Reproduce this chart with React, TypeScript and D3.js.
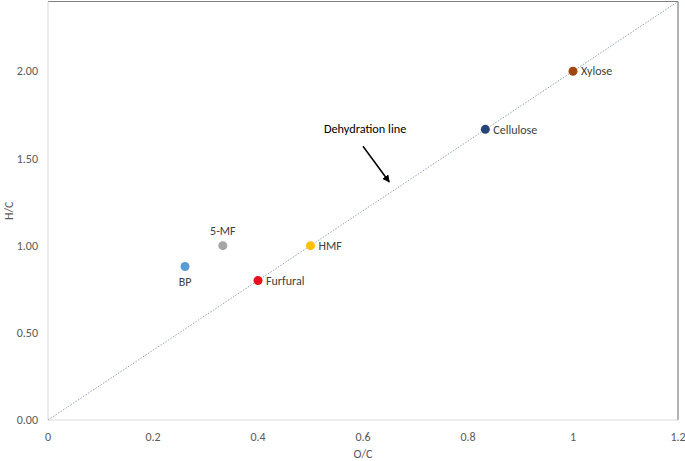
import React from "react";
import * as d3 from "d3";

const names = ["BP", "5-MF", "Furfural", "HMF", "Cellulose", "Xylose"];
const ocValues = [0.261, 0.333, 0.4, 0.5, 0.833, 1.0];
const hcValues = [0.88, 1.0, 0.8, 1.0, 1.667, 2.0];
const colors = ["#5B9BD5", "#A5A5A5", "#E8101C", "#FFC000", "#264478", "#9E480E"];
const labelPos = ["below", "above", "right", "right", "right", "right"];
const xTicks = [0, 0.2, 0.4, 0.6, 0.8, 1, 1.2];
const yTicks = [0, 0.5, 1.0, 1.5, 2.0];
const lineX = [0, 1.2];
const lineY = [0, 2.4];
const arrowFrom = [0.6, 1.57];
const arrowTo = [0.65, 1.365];
const annotationAt = [0.604, 1.67];

const W = 685, H = 461;
const left = 48, right = 678, top = 1.5, bottom = 420;
const font = "Carlito, Calibri, Lato, 'Open Sans', sans-serif";
const fs = 12;

export default function App() {
  const x = d3.scaleLinear().domain([0, 1.2]).range([left, right]);
  const y = d3.scaleLinear().domain([0, 2.4]).range([bottom, top]);
  const line = d3.line<number>().x((_, i) => x(lineX[i])).y((_, i) => y(lineY[i]));
  return (
    <div style={{ position: "absolute", left: 0, top: 0 }}>
      <svg width={W} height={H} style={{ display: "block", fontFamily: font }}>
        <defs>
          <marker id="ah" viewBox="0 0 10 10" refX="9" refY="5" markerWidth="5" markerHeight="5" orient="auto">
            <path d="M0,0 L10,5 L0,10 z" fill="#000" />
          </marker>
        </defs>
        <rect x={0} y={0} width={W} height={H} fill="#fff" />
        <line x1={left} x2={right} y1={top} y2={top} stroke="#7f7f7f" strokeWidth={1.2} />
        <line x1={right} x2={right} y1={top} y2={bottom} stroke="#7f7f7f" strokeWidth={1.2} />
        <line x1={left} x2={left} y1={top} y2={bottom} stroke="#d9d9d9" strokeWidth={1} />
        <line x1={left} x2={right} y1={bottom} y2={bottom} stroke="#d9d9d9" strokeWidth={1} />
        <path d={line(lineX) || ""} fill="none" stroke="#8497B0" strokeWidth={0.9} strokeDasharray="1.5,1.5" />
        {yTicks.map((t) => (
          <text key={"y" + t} x={38} y={y(t)} dy="0.35em" textAnchor="end" fontSize={fs} fill="#595959">
            {d3.format(".2f")(t)}
          </text>
        ))}
        {xTicks.map((t) => (
          <text key={"x" + t} x={x(t)} y={437} dy="0.35em" textAnchor="middle" fontSize={fs} fill="#595959">
            {String(t)}
          </text>
        ))}
        <text x={363} y={454} dy="0.35em" textAnchor="middle" fontSize={fs} fill="#595959">O/C</text>
        <text transform={`translate(9,${(top + bottom) / 2}) rotate(-90)`} dy="0.35em" textAnchor="middle" fontSize={fs} fill="#595959">H/C</text>
        {names.map((n, i) => (
          <g key={n}>
            <circle cx={x(ocValues[i])} cy={y(hcValues[i])} r={4.5} fill={colors[i]} />
            {labelPos[i] === "right" && (
              <text x={x(ocValues[i]) + 8} y={y(hcValues[i])} dy="0.35em" fontSize={fs} fill="#404040">{n}</text>
            )}
            {labelPos[i] === "below" && (
              <text x={x(ocValues[i])} y={y(hcValues[i]) + 15} dy="0.35em" textAnchor="middle" fontSize={fs} fill="#404040">{n}</text>
            )}
            {labelPos[i] === "above" && (
              <text x={x(ocValues[i])} y={y(hcValues[i]) - 15} dy="0.35em" textAnchor="middle" fontSize={fs} fill="#404040">{n}</text>
            )}
          </g>
        ))}
        <line x1={x(arrowFrom[0])} y1={y(arrowFrom[1])} x2={x(arrowTo[0])} y2={y(arrowTo[1])} stroke="#000" strokeWidth={1.5} markerEnd="url(#ah)" />
        <text x={x(annotationAt[0])} y={y(annotationAt[1])} dy="0.35em" textAnchor="middle" fontSize={12.3} fill="#000">Dehydration line</text>
      </svg>
    </div>
  );
}
